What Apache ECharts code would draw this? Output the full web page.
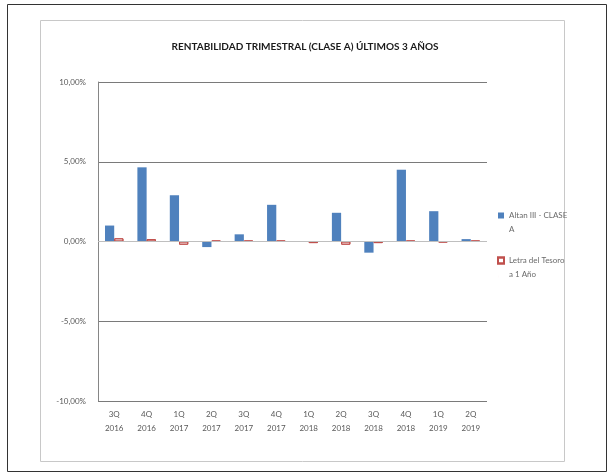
<!DOCTYPE html>
<html><head><meta charset="utf-8">
<script src="https://cdn.jsdelivr.net/npm/echarts@6/dist/echarts.min.js"></script>
<style>html,body{margin:0;padding:0;background:#fff}#c{width:610px;height:473px}</style>
</head><body><div id="c"></div>
<script>
const categories = ['3Q\n2016','4Q\n2016','1Q\n2017','2Q\n2017','3Q\n2017','4Q\n2017','1Q\n2018','2Q\n2018','3Q\n2018','4Q\n2018','1Q\n2019','2Q\n2019'];
const altan = [1.0, 4.65, 2.9, -0.35, 0.45, 2.3, 0.0, 1.8, -0.7, 4.5, 1.9, 0.15];
const letra = [0.2, 0.15, -0.2, 0.05, 0.05, 0.05, -0.1, -0.2, -0.1, 0.05, -0.05, 0.05];
const seriesNames = ['Altan III - CLASE A', 'Letra del Tesoro a 1 Año'];
const legendWrapped = {'Altan III - CLASE A': 'Altan III - CLASE\nA', 'Letra del Tesoro a 1 Año': 'Letra del Tesoro\na 1 Año'};
const titleText = 'RENTABILIDAD TRIMESTRAL (CLASE A) ÚLTIMOS 3 AÑOS';

const chart = echarts.init(document.getElementById('c'));
const font = 'Lato, "Open Sans", sans-serif';
const topIcon = 'path://M0,0L6,0L6,6L0,6Z M0,19L0.01,19';
chart.setOption({
  animation: false,
  backgroundColor: '#fff',
  textStyle: {fontFamily: font},
  title: {text: titleText, left: 300, textAlign: 'center', top: 37,
    textStyle: {fontSize: 10, fontWeight: 'bold', color: '#1a1a1a', fontFamily: font}},
  grid: {left: 98, right: 123, top: 82, bottom: 72},
  legend: {
    orient: 'vertical', left: 492, top: 203, itemGap: 17, itemWidth: 6, itemHeight: 19,
    data: seriesNames.map(n => ({name: n, icon: topIcon})),
    formatter: n => legendWrapped[n],
    textStyle: {fontSize: 8, color: '#6a6a6a', lineHeight: 14, fontFamily: font}
  },
  xAxis: {
    type: 'category', data: categories,
    axisLine: {show: false}, axisTick: {show: false},
    axisLabel: {fontSize: 8, color: '#595959', lineHeight: 14, margin: 6, fontFamily: font}
  },
  yAxis: {
    type: 'value', min: -10, max: 10, interval: 5,
    axisLine: {show: true, lineStyle: {color: '#868686', width: 1}},
    axisTick: {show: false},
    splitLine: {lineStyle: {color: '#7a7a7a', width: 1.2}},
    axisLabel: {fontSize: 8, color: '#595959', margin: 12, fontFamily: font,
      formatter: v => v.toFixed(2).replace('.', ',') + '%'}
  },
  series: [
    {name: seriesNames[0], type: 'bar', data: altan, barGap: '0%', barCategoryGap: '43%',
      itemStyle: {color: '#4F81BD'},
      markLine: {silent: true, symbol: 'none', label: {show: false},
        lineStyle: {color: '#BFBFBF', type: 'solid', width: 1.2}, data: [{yAxis: 0}]}},
    {name: seriesNames[1], type: 'bar', data: letra, barGap: '0%', barCategoryGap: '43%',
      itemStyle: {color: '#ffffff', borderColor: '#C0504D', borderWidth: 1,
        decal: {symbol: 'none', dashArrayX: [1, 0], dashArrayY: [1, 2], rotation: -Math.PI / 4, color: '#C0504D'}}}
  ],
  graphic: [
    {type: 'rect', shape: {x: 7.5, y: 4.5, width: 599, height: 467}, style: {fill: 'none', stroke: '#333', lineWidth: 1}, silent: true},
    {type: 'rect', shape: {x: 40.5, y: 20.5, width: 524, height: 441}, style: {fill: 'none', stroke: '#c8c8c8', lineWidth: 1}, silent: true}
  ]
});
</script></body></html>
